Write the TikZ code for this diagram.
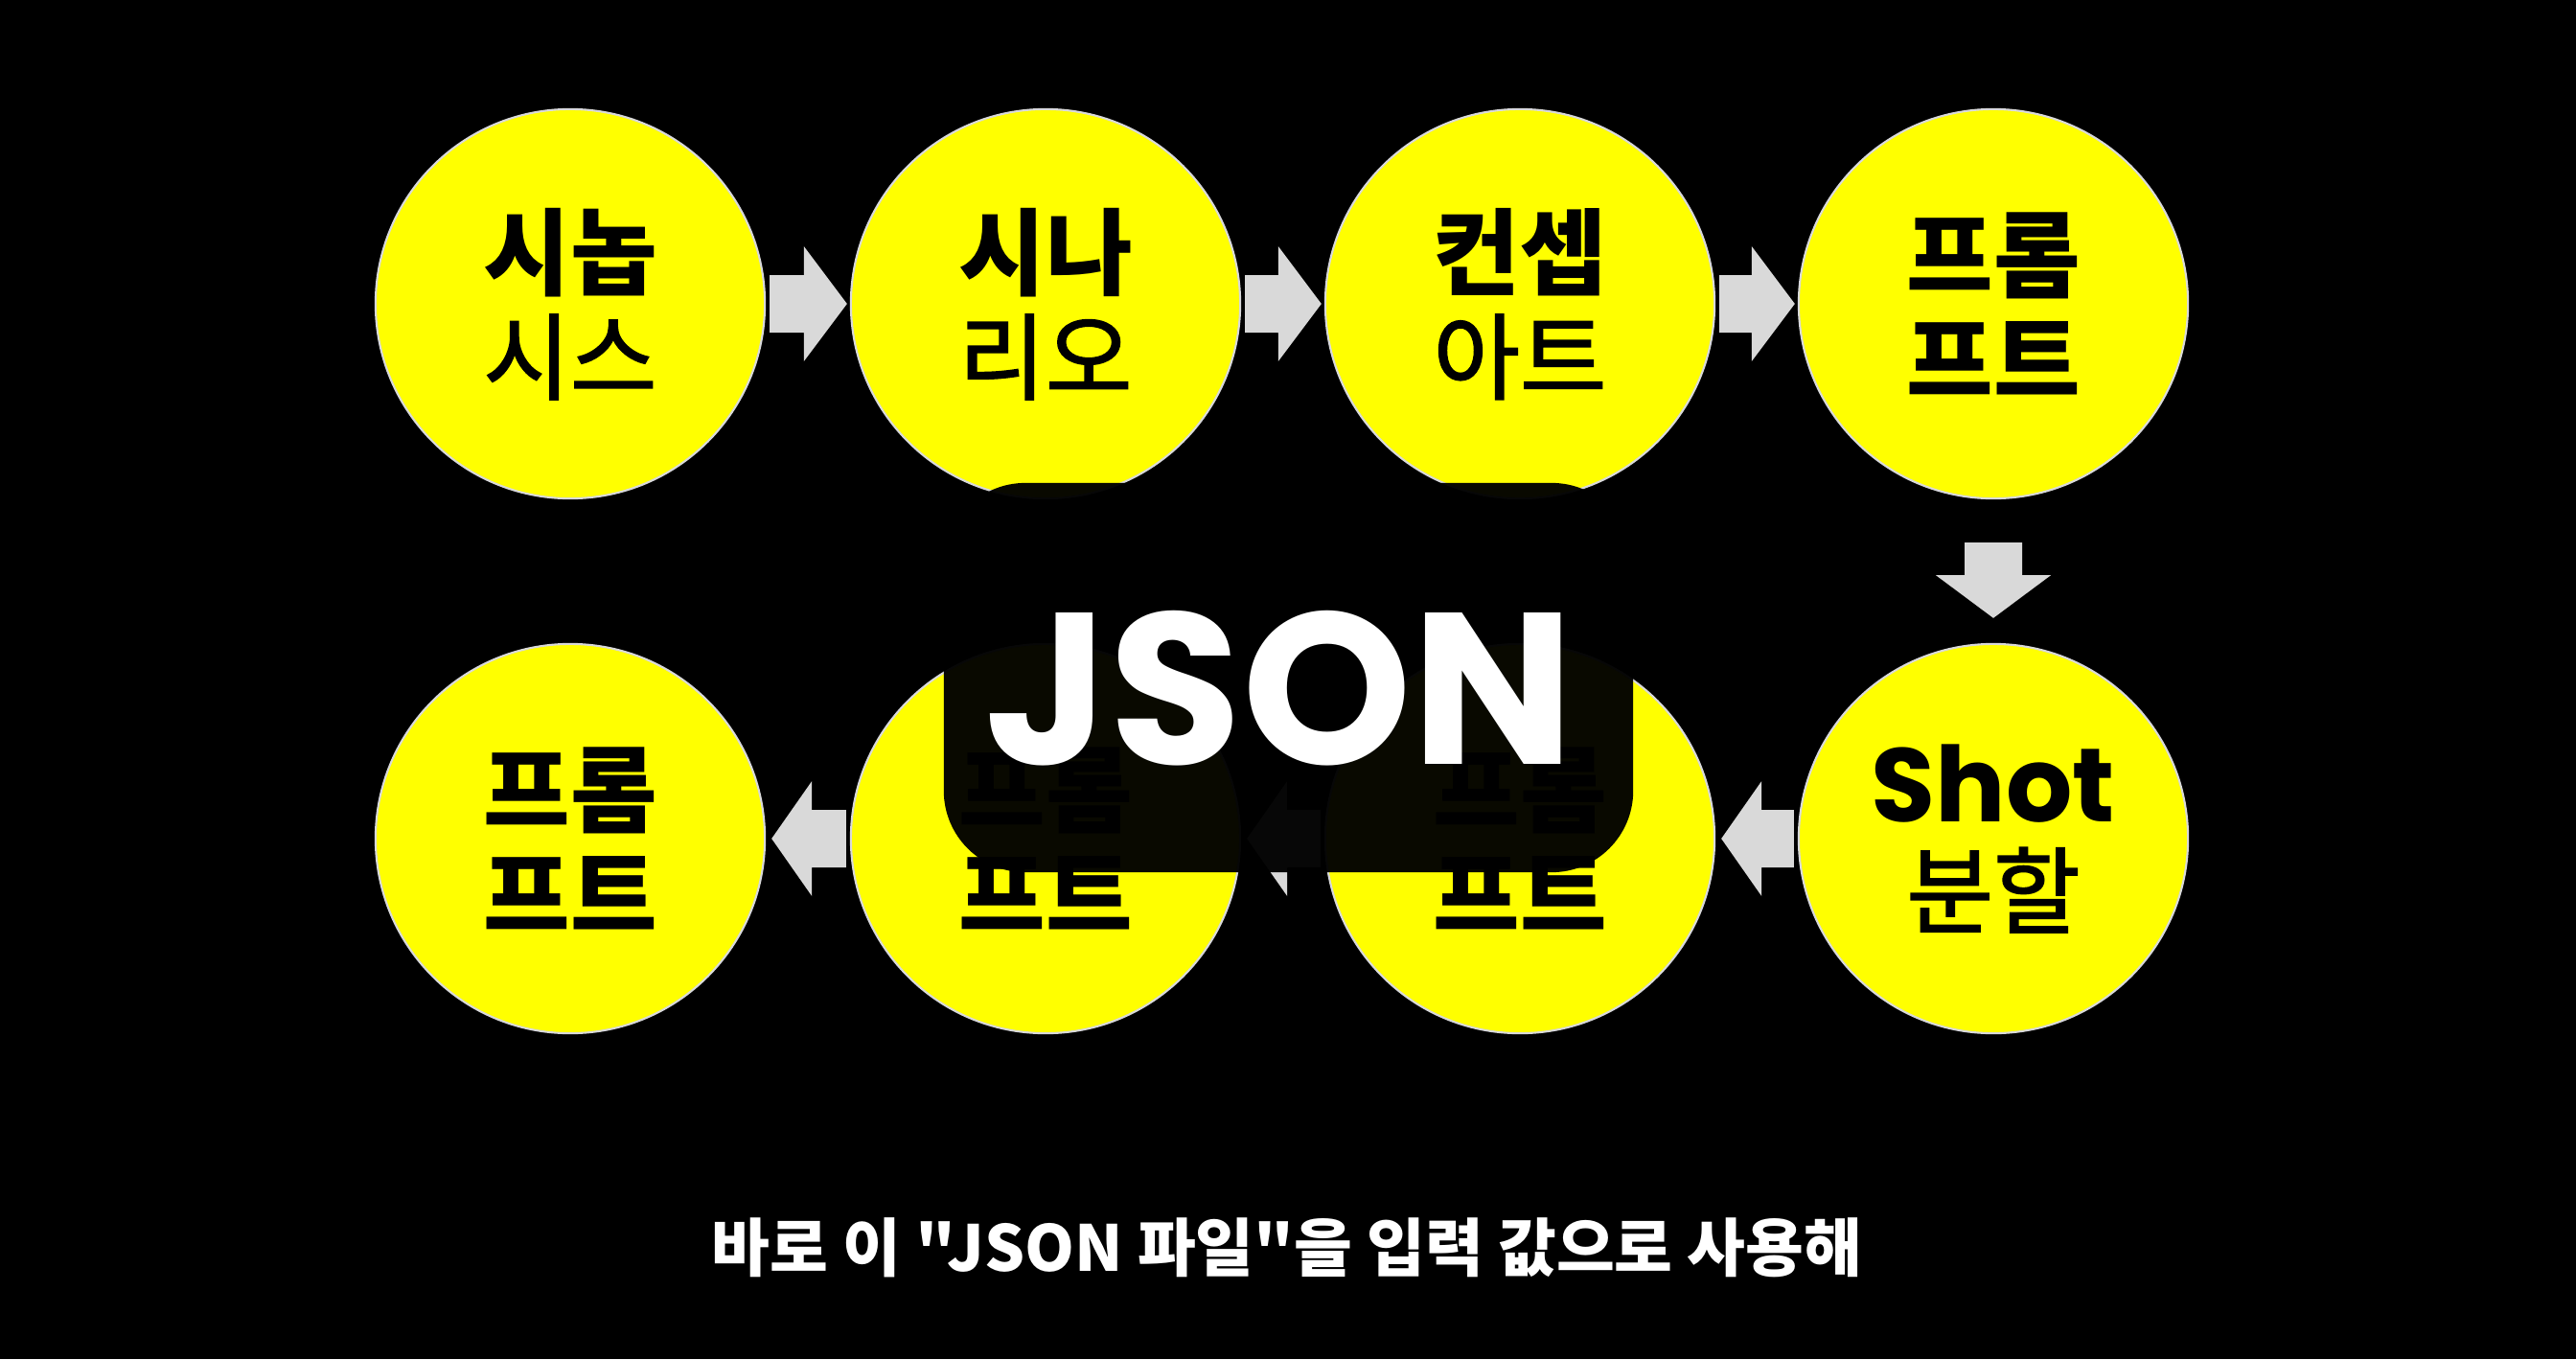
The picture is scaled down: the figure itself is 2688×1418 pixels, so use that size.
\documentclass[tikz,border=0pt]{standalone}
\usepackage{fontspec}
\usetikzlibrary{calc}
\newfontfamily\kr{Noto Sans CJK KR}
\newfontfamily\krm[FakeBold=1.6]{Noto Sans CJK KR}
\newfontfamily\pop{Poppins}
\definecolor{yel}{HTML}{FFFF00}
\definecolor{arwgray}{HTML}{D9D9D9}
\tikzset{
  circ/.style={circle, fill=yel, draw=white!85!black, line width=0.6pt,
    minimum size=4.06cm, inner sep=0pt, align=center, text=black,
    font=\kr\fontsize{28pt}{31pt}\selectfont},
  arw/.style={fill=arwgray},
  jsonbox/.style={rectangle, rounded corners=0.85cm, fill=black, fill opacity=0.965,
    minimum width=7.19cm, minimum height=4.06cm, inner sep=0pt},
  jsontext/.style={text=white, font=\pop\bfseries\fontsize{64pt}{64pt}\selectfont, inner sep=0pt},
  subtitle/.style={text=white, font=\kr\bfseries\fontsize{18.8pt}{20pt}\selectfont, inner sep=0pt}
}
\begin{document}
\begin{tikzpicture}[x=0.01cm,y=-0.01cm]
  \fill[black] (0,0) rectangle (2688,1418);
  \useasboundingbox (0,0) rectangle (2688,1418);
  % top row
  \node[circ] (c1) at (595,317) {{\bfseries 시놉}\\{\krm 시스}};
  \node[circ] (c2) at (1091,317) {{\bfseries 시나}\\{\krm 리오}};
  \node[circ] (c3) at (1586,317) {{\bfseries 컨셉}\\{\krm 아트}};
  \node[circ] (c4) at (2080,317) {{\bfseries 프롬}\\{\bfseries 프트}};
  % bottom row
  \node[circ] (c5) at (2080,875) {{\pop\bfseries\fontsize{31pt}{30pt}\selectfont Shot}\\{\krm 분할}};
  \node[circ] (c6) at (1586,875) {{\bfseries 프롬}\\{\bfseries 프트}};
  \node[circ] (c7) at (1091,875) {{\bfseries 프롬}\\{\bfseries 프트}};
  \node[circ] (c8) at (595,875) {{\bfseries 프롬}\\{\bfseries 프트}};
  % right arrows (top row)
  \foreach \a/\b in {c1/c2, c2/c3, c3/c4}{
    \fill[arw] ($(\a.east)+(4,-30)$) -- ($(\b.west)+(-48,-30)$) -- ($(\b.west)+(-48,-60)$)
      -- ($(\b.west)+(-3,0)$) -- ($(\b.west)+(-48,60)$) -- ($(\b.west)+(-48,30)$)
      -- ($(\a.east)+(4,30)$) -- cycle;
  }
  % down arrow
  \fill[arw] ($(c4.south)+(-30,45)$) -- ($(c4.south)+(-30,79)$) -- ($(c4.south)+(-60,79)$)
    -- ($(c5.north)+(0,-26)$) -- ($(c4.south)+(60,79)$) -- ($(c4.south)+(30,79)$)
    -- ($(c4.south)+(30,45)$) -- cycle;
  % left arrows (bottom row)
  \foreach \a/\b in {c5/c6, c6/c7, c7/c8}{
    \fill[arw] ($(\a.west)+(-4,-30)$) -- ($(\b.east)+(48,-30)$) -- ($(\b.east)+(48,-60)$)
      -- ($(\b.east)+(6,0)$) -- ($(\b.east)+(48,60)$) -- ($(\b.east)+(48,30)$)
      -- ($(\a.west)+(-4,30)$) -- cycle;
  }
  % JSON overlay
  \node[jsonbox] (box) at (1344.5,707) {};
  \node[jsontext, anchor=base] (json) at (1335,797) {JSON};
  % subtitle
  \node[subtitle, anchor=base] (sub) at (1343,1326) {바로 이 "JSON 파일"을 입력 값으로 사용해};
\end{tikzpicture}
\end{document}
